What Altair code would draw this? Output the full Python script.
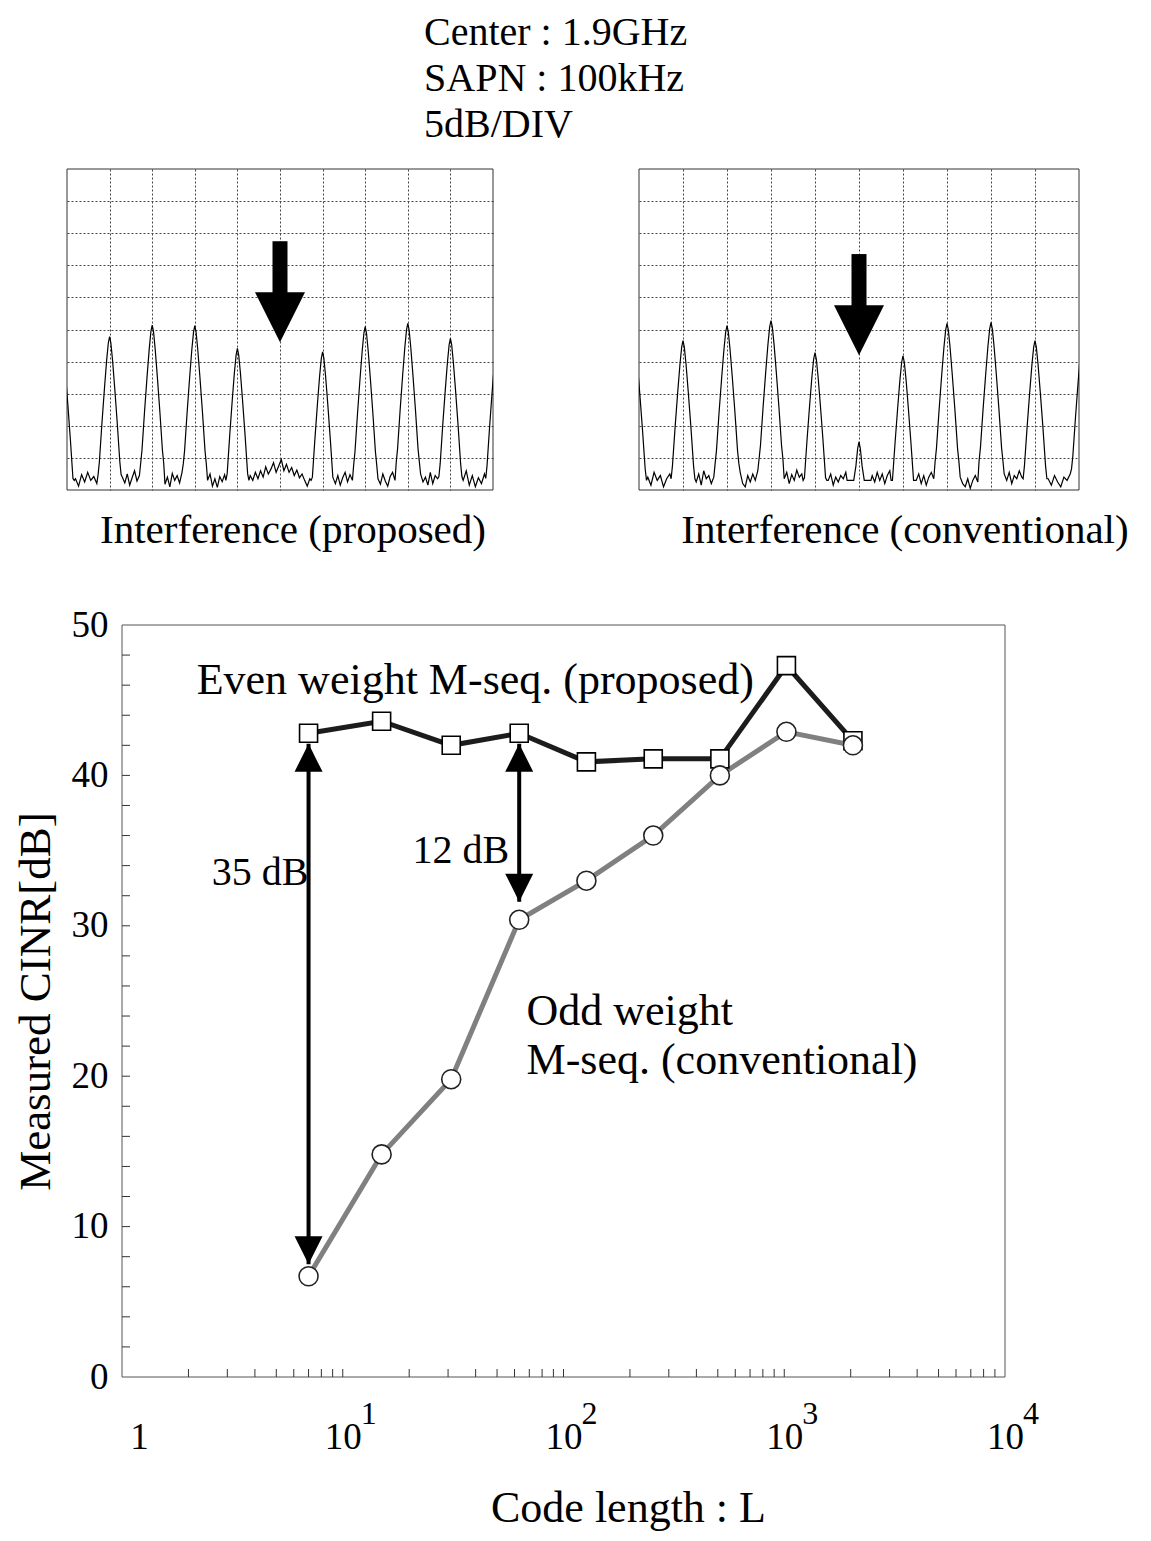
import altair as alt
import pandas as pd

FONT = "Liberation Serif"

# ---------------- main chart data ----------------
CODE_LENGTH = [7, 15, 31, 63, 127, 255, 511, 1023, 2047]
CINR_EVEN = [42.8, 43.6, 42.0, 42.8, 40.9, 41.1, 41.1, 47.3, 42.3]
CINR_ODD = [6.7, 14.8, 19.8, 30.4, 33.0, 36.0, 40.0, 42.9, 42.0]

Y_TICKS = [0, 10, 20, 30, 40, 50]
Y_MINOR = list(range(2, 50, 2))
X_TICKS = [1, 10, 100, 1000, 10000]
X_MINOR = [m * 10 ** k for k in range(4) for m in range(2, 10)] + [10, 100, 1000]
X_EXP_AT = [10, 100, 1000, 10000]
X_EXP_TXT = ["1", "2", "3", "4"]

ARROW_X = [7, 63]
ARROW_TOP = [42.1, 42.1]
ARROW_BOTTOM = [7.5, 31.6]

ANNOT_TEXT = ["Even weight M-seq. (proposed)", "35 dB", "12 dB", "Odd weight", "M-seq. (conventional)"]
ANNOT_X = [2.18, 2.55, 20.7, 68, 68]
ANNOT_Y = [46.3, 33.5, 35.0, 24.3, 21.0]
ANNOT_SIZE = [44, 40, 40, 44, 44]

# ---------------- spectrum panels data ----------------
HEADER = ["Center : 1.9GHz", "SAPN : 100kHz", "5dB/DIV"]
CAPTIONS = ["Interference (proposed)", "Interference (conventional)"]

# peak profile (offset in divisions, drop below peak top in divisions)
SPEC_DX = [-0.27, -0.24, -0.18, -0.12, -0.07, -0.03, 0.0, 0.03, 0.07, 0.12, 0.18, 0.24, 0.27]
SPEC_DROP = [4.3, 3.9, 2.7, 1.6, 0.75, 0.2, 0.0, 0.2, 0.75, 1.6, 2.7, 3.9, 4.3]

L_CENTERS = [-0.1, 1, 2, 3, 4, 6, 7, 8, 9, 10.1]
L_HEIGHTS = [4.26, 4.78, 5.14, 5.12, 4.41, 4.30, 5.09, 5.19, 4.72, 4.66]
L_NOISE = [
    [0.35, 0.12, 0.48, 0.25, 0.55, 0.30, 0.42, 0.20],
    [0.40, 0.22, 0.50, 0.15, 0.38, 0.60, 0.28, 0.45],
    [0.18, 0.40, 0.10, 0.52, 0.30, 0.45, 0.22, 0.55],
    [0.30, 0.50, 0.12, 0.35, 0.08, 0.42, 0.26, 0.48],
    [0.45, 0.30, 0.55, 0.35, 0.60, 0.40, 0.72, 0.50, 0.65, 0.85, 0.55, 0.75,
     0.95, 0.60, 0.80, 0.55, 0.70, 0.45, 0.62, 0.38, 0.50, 0.30, 0.12, 0.35],
    [0.20, 0.45, 0.15, 0.38, 0.55, 0.25, 0.48, 0.30],
    [0.35, 0.18, 0.50, 0.28, 0.12, 0.42, 0.55, 0.30],
    [0.50, 0.25, 0.40, 0.15, 0.55, 0.20, 0.45, 0.35],
    [0.30, 0.60, 0.15, 0.45, 0.10, 0.38, 0.20, 0.50],
]

R_CENTERS = [-0.1, 1, 2, 3, 4, 5, 6, 7, 8, 9, 10.1]
R_HEIGHTS = [4.56, 4.65, 5.12, 5.28, 4.28, 1.50, 4.18, 5.19, 5.22, 4.65, 4.96]
R_NOISE = [
    [0.40, 0.15, 0.55, 0.30, 0.45, 0.10, 0.35, 0.50],
    [0.25, 0.50, 0.15, 0.60, 0.35, 0.45, 0.20, 0.40],
    [0.55, 0.20, 0.10, 0.45, 0.25, 0.50, 0.30, 0.60],
    [0.35, 0.55, 0.20, 0.48, 0.30, 0.62, 0.40, 0.50],
    [0.30, 0.50, 0.15, 0.40, 0.25, 0.45, 0.35, 0.55],
    [0.45, 0.25, 0.55, 0.30, 0.50, 0.20, 0.45, 0.60],
    [0.30, 0.50, 0.20, 0.45, 0.15, 0.40, 0.55, 0.35],
    [0.40, 0.20, 0.10, 0.35, 0.05, 0.30, 0.45, 0.25],
    [0.50, 0.30, 0.55, 0.20, 0.45, 0.35, 0.60, 0.40],
    [0.35, 0.15, 0.45, 0.25, 0.10, 0.40, 0.30, 0.50],
]

L_ARROW = {"x": [5], "top": [7.75], "base": [6.0], "tip": [4.6]}
R_ARROW = {"x": [5], "top": [7.35], "base": [5.6], "tip": [4.2]}

PANEL_H = 321


def trace(centers, heights, noise):
    xs, ys = [], []
    for i, (c, h) in enumerate(zip(centers, heights)):
        for dx, dr in zip(SPEC_DX, SPEC_DROP):
            xs.append(c + dx)
            ys.append(max(h - dr, 0.3))
        if i < len(noise):
            a, b = c + 0.3, centers[i + 1] - 0.3
            n = len(noise[i])
            for j, v in enumerate(noise[i]):
                xs.append(a + (b - a) * j / (n - 1))
                ys.append(v)
    return pd.DataFrame({"x": xs, "y": ys, "o": list(range(len(xs)))})


def frame(x0, x1, h, color="#333"):
    return alt.Chart(pd.DataFrame({"a": [0]})).mark_rect(
        fillOpacity=0, stroke=color, strokeWidth=1).encode(
        x=alt.value(x0), x2=alt.value(x1), y=alt.value(0), y2=alt.value(h))


def panel(df, arrow, width, caption, cap_dx):
    xsc = alt.Scale(domain=[0, 10], nice=False, zero=False)
    ysc = alt.Scale(domain=[0, 10], nice=False, zero=False)
    xax = alt.Axis(values=list(range(1, 10)), grid=True, gridDash=[2, 2], gridColor="#444",
                   gridWidth=1, labels=False, ticks=False, domain=False, title=None)
    yax = alt.Axis(values=list(range(1, 10)), grid=True, gridDash=[2, 2], gridColor="#444",
                   gridWidth=1, labels=False, ticks=False, domain=False, title=None)
    line = alt.Chart(df).mark_line(color="black", strokeWidth=1.2, clip=True).encode(
        x=alt.X("x:Q", scale=xsc, axis=xax),
        y=alt.Y("y:Q", scale=ysc, axis=yax),
        order="o:Q",
    )
    adf = pd.DataFrame(arrow)
    shaft = alt.Chart(adf).mark_rule(color="black", strokeWidth=15).encode(
        x=alt.X("x:Q", scale=xsc, axis=xax),
        y=alt.Y("top:Q", scale=ysc, axis=yax),
        y2="base:Q",
    )
    head = alt.Chart(adf).mark_point(shape="M0,0L-1,-2L1,-2Z", size=2500, filled=True,
                                     color="black", opacity=1).encode(
        x=alt.X("x:Q", scale=xsc, axis=xax),
        y=alt.Y("tip:Q", scale=ysc, axis=yax),
    )
    return alt.layer(frame(0, width, PANEL_H), line, shaft, head).properties(
        width=width, height=PANEL_H,
        title=alt.TitleParams(caption, orient="bottom", fontSize=41, font=FONT,
                              fontWeight="normal", color="black", offset=20, dx=cap_dx),
    )


left = panel(trace(L_CENTERS, L_HEIGHTS, L_NOISE), L_ARROW, 426, CAPTIONS[0], 13)
right = panel(trace(R_CENTERS, R_HEIGHTS, R_NOISE), R_ARROW, 440, CAPTIONS[1], 46)
top_row = alt.hconcat(left, right, spacing=144)

# header block: one text row per line
header = alt.Chart(pd.DataFrame({"t": HEADER, "i": [0, 1, 2]})).mark_text(
    font=FONT, fontSize=40, align="left", baseline="top", color="black").encode(
    x=alt.value(357),
    y=alt.Y("i:Q", scale=alt.Scale(domain=[0, 2], range=[0, 92]), axis=None),
    text="t:N",
).properties(width=1, height=92)

# ---------------- main chart ----------------
# view starts at the left edge of the spectrum panel; the data area starts 55px further right
W, H = 938, 752
X0 = 55
xs = alt.Scale(type="log", domain=[1, 10000], nice=False, range=[X0, W])
ys = alt.Scale(domain=[0, 50], nice=False, zero=False)
x_axis = alt.Axis(values=X_TICKS,
                  labelExpr="datum.value == 1 ? '1' : '10'",
                  labelOffset={"condition": {"test": "datum.value == 1", "value": 17}, "value": 0},
                  labelFontSize=37, labelPadding=42, ticks=False, tickSize=0, domain=False,
                  grid=False, labelFlush=False, labelOverlap=False,
                  title="Code length : L", titleFontSize=44, titleX=561, titleY=131,
                  titleBaseline="middle", titleAlign="center")
y_axis = alt.Axis(values=Y_TICKS, labelFontSize=37, labelPadding=14, ticks=False, tickSize=0,
                  domain=False, grid=False, title="Measured CINR[dB]", titleFontSize=45,
                  titlePadding=13, offset=-X0)


def X(f):
    return alt.X(f, scale=xs, axis=x_axis)


def Y(f):
    return alt.Y(f, scale=ys, axis=y_axis)


df_even = pd.DataFrame({"L": CODE_LENGTH, "v": CINR_EVEN})
df_odd = pd.DataFrame({"L": CODE_LENGTH, "v": CINR_ODD})

odd_line = alt.Chart(df_odd).mark_line(color="#808080", strokeWidth=5).encode(x=X("L:Q"), y=Y("v:Q"))
even_line = alt.Chart(df_even).mark_line(color="#1c1c1c", strokeWidth=5).encode(x=X("L:Q"), y=Y("v:Q"))
even_pts = alt.Chart(df_even).mark_point(shape="square", size=324, fill="white", fillOpacity=1,
                                         stroke="black", strokeWidth=1.6, opacity=1).encode(
    x=X("L:Q"), y=Y("v:Q"))
odd_pts = alt.Chart(df_odd).mark_point(shape="circle", size=361, fill="white", fillOpacity=1,
                                       stroke="#222", strokeWidth=1.6, opacity=1).encode(
    x=X("L:Q"), y=Y("v:Q"))

df_arr = pd.DataFrame({"L": ARROW_X, "top": ARROW_TOP, "bottom": ARROW_BOTTOM})
shafts = alt.Chart(df_arr).mark_rule(color="black", strokeWidth=4).encode(
    x=X("L:Q"), y=Y("top:Q"), y2="bottom:Q")
heads_up = alt.Chart(df_arr).mark_point(shape="M0,0L-1,2L1,2Z", size=784, filled=True,
                                        color="black", opacity=1).encode(x=X("L:Q"), y=Y("top:Q"))
heads_dn = alt.Chart(df_arr).mark_point(shape="M0,0L-1,-2L1,-2Z", size=784, filled=True,
                                        color="black", opacity=1).encode(x=X("L:Q"), y=Y("bottom:Q"))

y_minor = alt.Chart(pd.DataFrame({"v": Y_MINOR})).mark_rule(color="#333", strokeWidth=1).encode(
    y=Y("v:Q"), x=alt.value(X0), x2=alt.value(X0 + 8))
x_minor = alt.Chart(pd.DataFrame({"L": X_MINOR})).mark_rule(color="#333", strokeWidth=1).encode(
    x=X("L:Q"), y=alt.value(H), y2=alt.value(H - 8))

exps = alt.Chart(pd.DataFrame({"L": X_EXP_AT, "t": X_EXP_TXT})).mark_text(
    font=FONT, fontSize=32, color="black", align="center", baseline="middle", dx=26).encode(
    x=X("L:Q"), y=alt.value(H + 37), text="t:N")

df_ann = pd.DataFrame({"L": ANNOT_X, "v": ANNOT_Y, "t": ANNOT_TEXT, "fs": ANNOT_SIZE})
annots = alt.Chart(df_ann).mark_text(font=FONT, color="black", align="left", baseline="middle").encode(
    x=X("L:Q"), y=Y("v:Q"), text="t:N", size=alt.Size("fs:Q", scale=None, legend=None))

main = alt.layer(frame(X0, W, H, "#555"), y_minor, x_minor, odd_line, even_line, shafts,
                 heads_up, heads_dn, even_pts, odd_pts, annots, exps).properties(width=W, height=H)

upper = alt.vconcat(header, top_row, spacing=22)
chart = alt.vconcat(upper, main, spacing=54).properties(
    padding={"left": 4, "top": 4, "right": 0, "bottom": 0},
).configure_view(stroke="transparent").configure_axis(
    labelFont=FONT, titleFont=FONT, labelColor="black", titleColor="black",
    titleFontWeight="normal").configure_text(font=FONT)

chart.save("out.html", embed_options={"renderer": "svg", "actions": False})
